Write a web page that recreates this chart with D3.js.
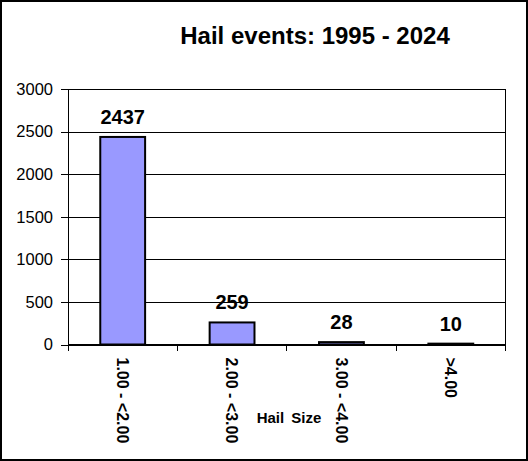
<!DOCTYPE html>
<html>
<head>
<meta charset="utf-8">
<script src="https://cdn.jsdelivr.net/npm/d3@7"></script>
<style>
  body { margin: 0; background: #fff; }
  text { font-family: "Liberation Sans", Arial, sans-serif; fill: #000; }
</style>
</head>
<body>
<div id="chart"></div>
<script>
// Chart data
var categories = ["1.00 - <2.00", "2.00 - <3.00", "3.00 - <4.00", ">4.00"];
var counts = [2437, 259, 28, 10];
var yTicks = [0, 500, 1000, 1500, 2000, 2500, 3000];

var svgWidth = 528;
var svgHeight = 461;

var margin = { top: 89, right: 22, bottom: 117, left: 68 };
var width = 505.5 - margin.left;
var height = 344.5 - margin.top;

var svg = d3.select("#chart")
  .append("svg")
  .attr("width", svgWidth)
  .attr("height", svgHeight);

// outer frame
svg.append("rect")
  .attr("x", 1)
  .attr("y", 1)
  .attr("width", svgWidth - 2)
  .attr("height", svgHeight - 2)
  .attr("fill", "#fff")
  .attr("stroke", "#000")
  .attr("stroke-width", 2);

// title
svg.append("text")
  .attr("x", 315)
  .attr("y", 44)
  .attr("text-anchor", "middle")
  .style("font-size", "24px")
  .style("font-weight", "bold")
  .text("Hail events: 1995 - 2024");

var chartGroup = svg.append("g")
  .attr("transform", `translate(${margin.left}, ${margin.top})`);

// scales
var xScale = d3.scaleBand()
  .domain(categories)
  .range([0, width])
  .paddingInner(0.59)
  .paddingOuter(0.295);

var yScale = d3.scaleLinear()
  .domain([0, 3000])
  .range([height, 0]);

// gridlines
chartGroup.append("g")
  .attr("class", "grid")
  .call(d3.axisLeft(yScale).tickValues(yTicks).tickSize(-width).tickFormat(""))
  .call(g => g.select(".domain").remove())
  .selectAll("line")
  .attr("stroke", "#000")
  .attr("shape-rendering", "crispEdges");

// right border of plot area
chartGroup.append("line")
  .attr("x1", width).attr("x2", width)
  .attr("y1", 0).attr("y2", height)
  .attr("stroke", "#000")
  .attr("shape-rendering", "crispEdges");

// y axis
var leftAxis = d3.axisLeft(yScale)
  .tickValues(yTicks)
  .tickFormat(d3.format("d"))
  .tickSize(7)
  .tickSizeOuter(0)
  .tickPadding(8);

chartGroup.append("g")
  .call(leftAxis)
  .call(g => g.selectAll("line, path").attr("stroke", "#000").attr("shape-rendering", "crispEdges"))
  .selectAll("text")
  .style("font-size", "16.5px")
  .style("font-family", "'Liberation Sans', Arial, sans-serif");

// bars
chartGroup.selectAll("rect.bar")
  .data(counts)
  .enter()
  .append("rect")
  .attr("class", "bar")
  .attr("x", (d, i) => xScale(categories[i]))
  .attr("y", d => yScale(d))
  .attr("width", xScale.bandwidth())
  .attr("height", d => height - yScale(d))
  .attr("fill", "#9999ff")
  .attr("stroke", "#000")
  .attr("stroke-width", 2);

// value labels
chartGroup.selectAll("text.value")
  .data(counts)
  .enter()
  .append("text")
  .attr("class", "value")
  .attr("x", (d, i) => xScale(categories[i]) + xScale.bandwidth() / 2)
  .attr("y", d => yScale(d) - 13)
  .attr("text-anchor", "middle")
  .style("font-size", "20px")
  .style("font-weight", "bold")
  .text(d => d);

// x axis line and boundary ticks
var bottomGroup = chartGroup.append("g")
  .attr("transform", `translate(0, ${height})`);

bottomGroup.append("line")
  .attr("x1", 0).attr("x2", width)
  .attr("stroke", "#000")
  .attr("shape-rendering", "crispEdges");

var edges = categories.map(c => xScale(c) - xScale.step() * xScale.paddingInner() / 2);
edges[0] = 0;
edges.push(width);

bottomGroup.selectAll("line.tick")
  .data(edges)
  .enter()
  .append("line")
  .attr("class", "tick")
  .attr("x1", d => d).attr("x2", d => d)
  .attr("y1", 0).attr("y2", 6)
  .attr("stroke", "#000")
  .attr("shape-rendering", "crispEdges");

// rotated category labels
bottomGroup.selectAll("text.cat")
  .data(categories)
  .enter()
  .append("text")
  .attr("class", "cat")
  .attr("transform", d => `translate(${xScale(d) + xScale.bandwidth() / 2}, 13) rotate(90)`)
  .attr("dy", "0.35em")
  .style("font-size", "16px")
  .style("font-weight", "bold")
  .text(d => d);

// x axis title
svg.append("text")
  .attr("x", 289)
  .attr("y", 423)
  .attr("text-anchor", "middle")
  .style("font-size", "15px")
  .style("font-weight", "bold")
  .style("word-spacing", "3px")
  .text("Hail Size");
</script>
</body>
</html>
